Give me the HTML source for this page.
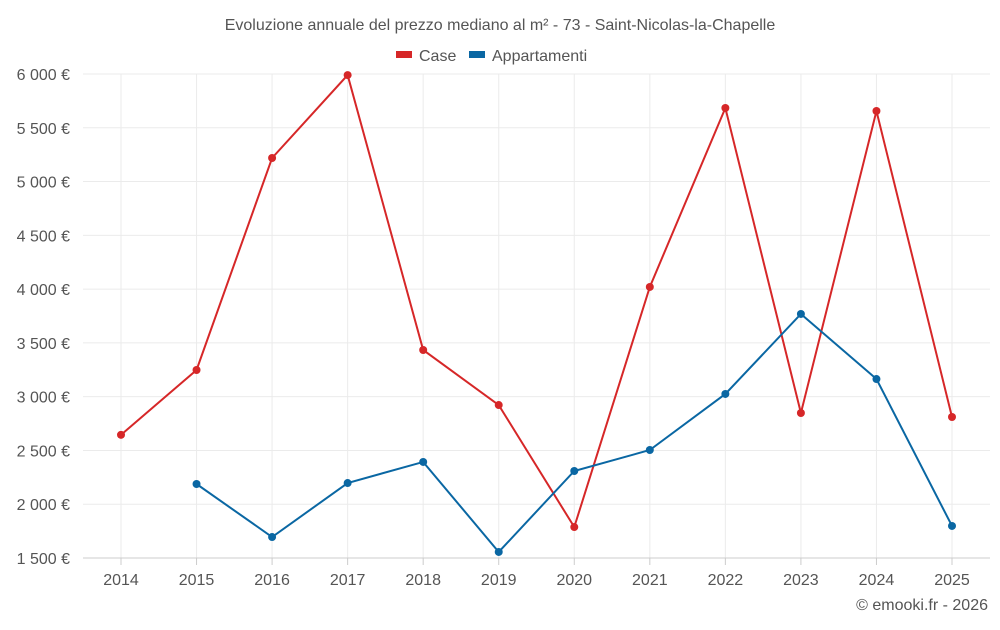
<!DOCTYPE html>
<html><head><meta charset="utf-8"><style>
body{margin:0;background:#fff;font-family:"Liberation Sans",sans-serif;}
svg text{font-family:"Liberation Sans",sans-serif;}
</style></head><body>
<svg id="chart" width="1000" height="625">
<text x="500" y="30" text-anchor="middle" font-size="16" fill="#555">Evoluzione annuale del prezzo mediano al m² - 73 - Saint-Nicolas-la-Chapelle</text>
<g><rect x="396" y="51" width="16" height="7" fill="#d62728"/><text x="419" y="61" font-size="16" fill="#555">Case</text></g>
<g><rect x="469" y="51" width="16" height="7" fill="#0a67a3"/><text x="492" y="61" font-size="16" fill="#555">Appartamenti</text></g>
<g id="grid"></g><g id="axes"></g><g id="series"></g>
<text x="988" y="610" text-anchor="end" font-size="16" fill="#555">© emooki.fr - 2026</text>
</svg>
<script>
const years=[2014,2015,2016,2017,2018,2019,2020,2021,2022,2023,2024,2025];
const caseVals=[2645,3248,5219,5990,3434,2922,1788,4020,5684,2848,5656,2811];
const apptVals=[null,2188,1695,2197,2393,1556,2309,2504,3025,3769,3164,1798];
const yTicks=[1500,2000,2500,3000,3500,4000,4500,5000,5500,6000];
const NS="http://www.w3.org/2000/svg";
const x=i=>121+i*(952-121)/11;
const y=v=>558-(v-1500)*(558-74)/4500;
function mk(t,a,p){const e=document.createElementNS(NS,t);for(const k in a)e.setAttribute(k,a[k]);p.appendChild(e);return e;}
const grid=document.getElementById('grid'),axes=document.getElementById('axes'),ser=document.getElementById('series');
yTicks.forEach(v=>{
 const l=mk('line',{x1:83,x2:990,y1:y(v),y2:y(v),stroke:'#ebebeb'},grid);
 
 
 const t=mk('text',{x:70,y:y(v)+6,'text-anchor':'end','font-size':16,fill:'#555'},axes);
 t.textContent=v.toLocaleString('fr-FR').replace(/\s/g,' ')+' €';
 
 
});
years.forEach((yr,i)=>{
 const l=mk('line',{x1:x(i),x2:x(i),y1:74,y2:558,stroke:'#ebebeb'},grid);
 
 
 const tk=mk('line',{x1:x(i),x2:x(i),y1:558,y2:565,stroke:'#ccc'},axes);
 
 
 const t=mk('text',{x:x(i),y:585,'text-anchor':'middle','font-size':16,fill:'#555'},axes);
 t.textContent=yr;
 
 
});
const ax=mk('line',{x1:83,x2:990,y1:558,y2:558,stroke:'#ccc'},axes);


function draw(vals,col,name){
 const pts=[];vals.forEach((v,i)=>{if(v!=null)pts.push([x(i),y(v)]);});
 const p=mk('polyline',{points:pts.map(q=>q.join(',')).join(' '),fill:'none',stroke:col,'stroke-width':2},ser);
 
 
 pts.forEach(q=>{const c=mk('circle',{cx:q[0],cy:q[1],r:4,fill:col},ser);
 
 });
}
draw(caseVals,'#d62728','case');
draw(apptVals,'#0a67a3','appartamenti');
</script>
</body></html>
